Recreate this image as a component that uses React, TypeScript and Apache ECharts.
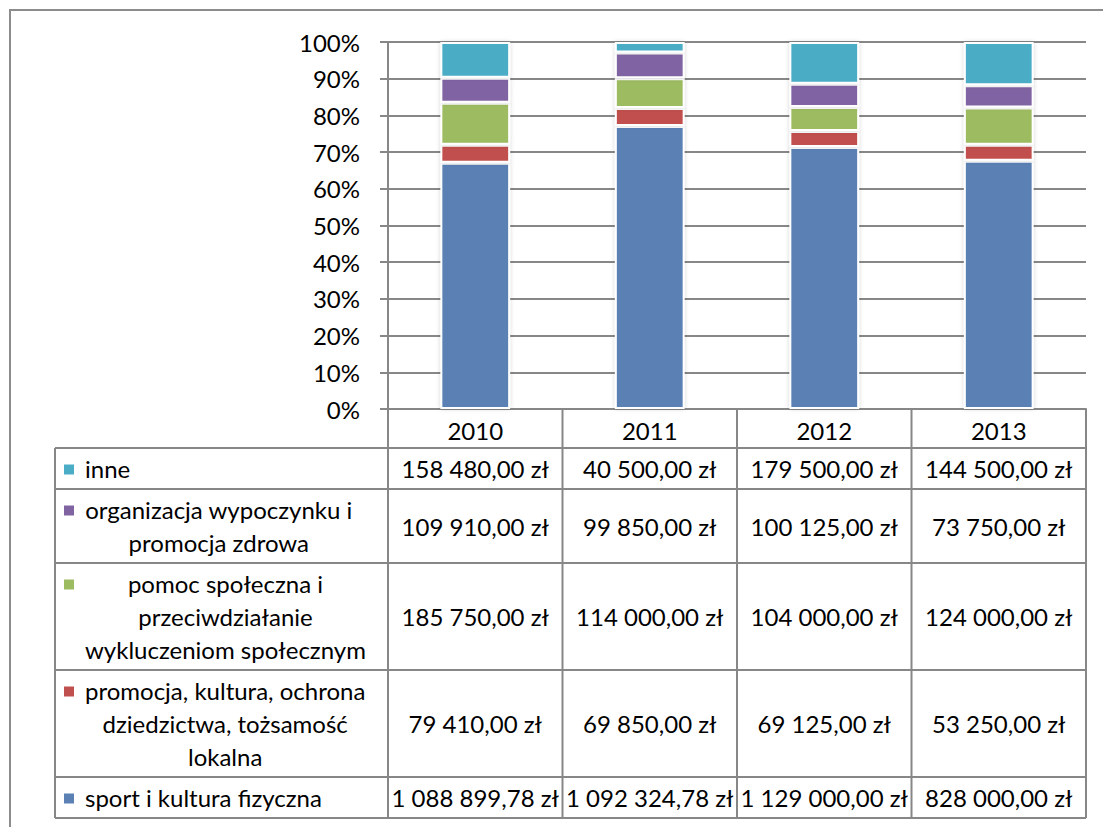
import React, { useEffect, useRef } from 'react';
import * as echarts from 'echarts';

// ---------- data ----------
const years = ['2010', '2011', '2012', '2013'];
const sportValues = [1088899.78, 1092324.78, 1129000, 828000];
const promocjaValues = [79410, 69850, 69125, 53250];
const pomocValues = [185750, 114000, 104000, 124000];
const organizacjaValues = [109910, 99850, 100125, 73750];
const inneValues = [158480, 40500, 179500, 144500];

const sportLabel = 'sport i kultura fizyczna';
const promocjaLabel = 'promocja, kultura, ochrona\ndziedzictwa, tożsamość\nlokalna';
const pomocLabel = 'pomoc społeczna i\nprzeciwdziałanie\nwykluczeniom społecznym';
const organizacjaLabel = 'organizacja wypoczynku i\npromocja zdrowa';
const inneLabel = 'inne';

// series listed bottom (first) to top (last) of the stack
const seriesDefs = [
  { name: sportLabel, values: sportValues, color: '#5a80b4' },
  { name: promocjaLabel, values: promocjaValues, color: '#c0504d' },
  { name: pomocLabel, values: pomocValues, color: '#9dbb61' },
  { name: organizacjaLabel, values: organizacjaValues, color: '#8064a2' },
  { name: inneLabel, values: inneValues, color: '#4bacc6' },
];

// ---------- layout ----------
const W = 1103;
const H = 827;
const gridLeft = 388;
const gridRight = 1086;
const gridTop = 42;
const gridBottom = 409;
const headerBottom = 448;
const tableLeft = 55;
const lineH = 33;
const rowPad = 8;
const legendTextX = 85;
const squareX = 64;
const squareSize = 10;
const FONT = 'Lato';
const FS = 24;
const GRID_COLOR = '#878787';

function fmtPLN(v: number): string {
  const fixed = v.toFixed(2);
  const [intPart, dec] = fixed.split('.');
  const withSpaces = intPart.replace(/\B(?=(\d{3})+(?!\d))/g, ' ');
  return `${withSpaces},${dec} zł`;
}

export default function App() {
  const ref = useRef<HTMLDivElement>(null);

  useEffect(() => {
    if (!ref.current) return;
    const chart = echarts.init(ref.current, undefined, { renderer: 'svg' });

    const totals = years.map((_, i) => seriesDefs.reduce((s, d) => s + d.values[i], 0));

    const ctx = document.createElement('canvas').getContext('2d')!;
    ctx.font = `${FS}px ${FONT}`;
    const measure = (s: string) => ctx.measureText(s).width;

    const colW = (gridRight - gridLeft) / years.length;
    const graphics: any[] = [];
    const line = (x1: number, y1: number, x2: number, y2: number) =>
      graphics.push({
        type: 'line',
        shape: { x1, y1, x2, y2 },
        style: { stroke: GRID_COLOR, lineWidth: 2 },
        z: 10,
      });

    // outer frame
    graphics.push({
      type: 'rect',
      shape: { x: 10, y: 10, width: 1200, height: 900 },
      style: { fill: 'none', stroke: '#8c8c8c', lineWidth: 2 },
      z: 1,
    });

    // table rows, top to bottom
    const rows = [...seriesDefs].reverse();
    let y = headerBottom;
    const rowBounds: { top: number; bottom: number }[] = [];
    rows.forEach((r) => {
      const n = r.name.split('\n').length;
      const h = n * lineH + rowPad;
      rowBounds.push({ top: y, bottom: y + h });
      y += h;
    });
    const tableBottom = y;

    // horizontal lines
    line(tableLeft, headerBottom, gridRight, headerBottom);
    rowBounds.forEach((b) => line(tableLeft, b.bottom, gridRight, b.bottom));
    // vertical lines
    line(tableLeft, headerBottom, tableLeft, tableBottom);
    for (let i = 0; i <= years.length; i++) {
      const x = gridLeft + i * colW;
      line(x, gridBottom, x, tableBottom);
    }

    rows.forEach((r, ri) => {
      const b = rowBounds[ri];
      const cy = (b.top + b.bottom) / 2;
      const lines = r.name.split('\n');
      const maxW = Math.max(...lines.map(measure));
      const firstLineCy = b.top + rowPad / 2 + lineH / 2;
      graphics.push({
        type: 'rect',
        shape: { x: squareX, y: firstLineCy - squareSize / 2 + 1, width: squareSize, height: squareSize },
        style: { fill: r.color },
        z: 11,
      });
      graphics.push({
        type: 'text',
        x: legendTextX + maxW / 2,
        y: cy,
        style: {
          text: r.name,
          fill: '#000',
          fontSize: FS,
          fontFamily: FONT,
          lineHeight: lineH,
          align: 'center',
          verticalAlign: 'middle',
          textAlign: 'center',
          textVerticalAlign: 'middle',
        },
        z: 11,
      });
      r.values.forEach((v, i) => {
        graphics.push({
          type: 'text',
          x: gridLeft + (i + 0.5) * colW,
          y: cy,
          style: {
            text: fmtPLN(v),
            fill: '#000',
            fontSize: FS,
            fontFamily: FONT,
            align: 'center',
            verticalAlign: 'middle',
            textAlign: 'center',
            textVerticalAlign: 'middle',
          },
          z: 11,
        });
      });
    });

    chart.setOption({
      animation: false,
      backgroundColor: '#fff',
      grid: {
        left: gridLeft,
        right: W - gridRight,
        top: gridTop,
        bottom: H - gridBottom,
        containLabel: false,
      },
      xAxis: {
        type: 'category',
        data: years,
        axisLine: { show: true, lineStyle: { color: GRID_COLOR, width: 2 } },
        axisTick: { show: false },
        axisLabel: { color: '#000', fontSize: FS, fontFamily: FONT, margin: 9 },
      },
      yAxis: {
        type: 'value',
        min: 0,
        max: 100,
        interval: 10,
        axisLine: { show: true, lineStyle: { color: GRID_COLOR, width: 2 } },
        axisTick: { show: true, length: 8, lineStyle: { color: GRID_COLOR, width: 2 } },
        splitLine: { show: true, lineStyle: { color: GRID_COLOR, width: 2 } },
        axisLabel: {
          formatter: '{value}%',
          color: '#000',
          fontSize: FS,
          fontFamily: FONT,
          margin: 28,
        },
      },
      series: seriesDefs.map((d) => ({
        type: 'bar',
        name: d.name,
        stack: 'total',
        barWidth: '40%',
        data: d.values.map((v, i) => (v / totals[i]) * 100),
        itemStyle: {
          color: d.color,
          borderColor: '#fff',
          borderWidth: 2,
          shadowColor: 'rgba(0,0,0,0.18)',
          shadowBlur: 4,
        },
        z: 3,
      })),
      graphic: graphics,
    });

    return () => chart.dispose();
  }, []);

  return (
    <div
      ref={ref}
      style={{ position: 'fixed', left: 0, top: 0, width: W, height: H, background: '#fff' }}
    />
  );
}
